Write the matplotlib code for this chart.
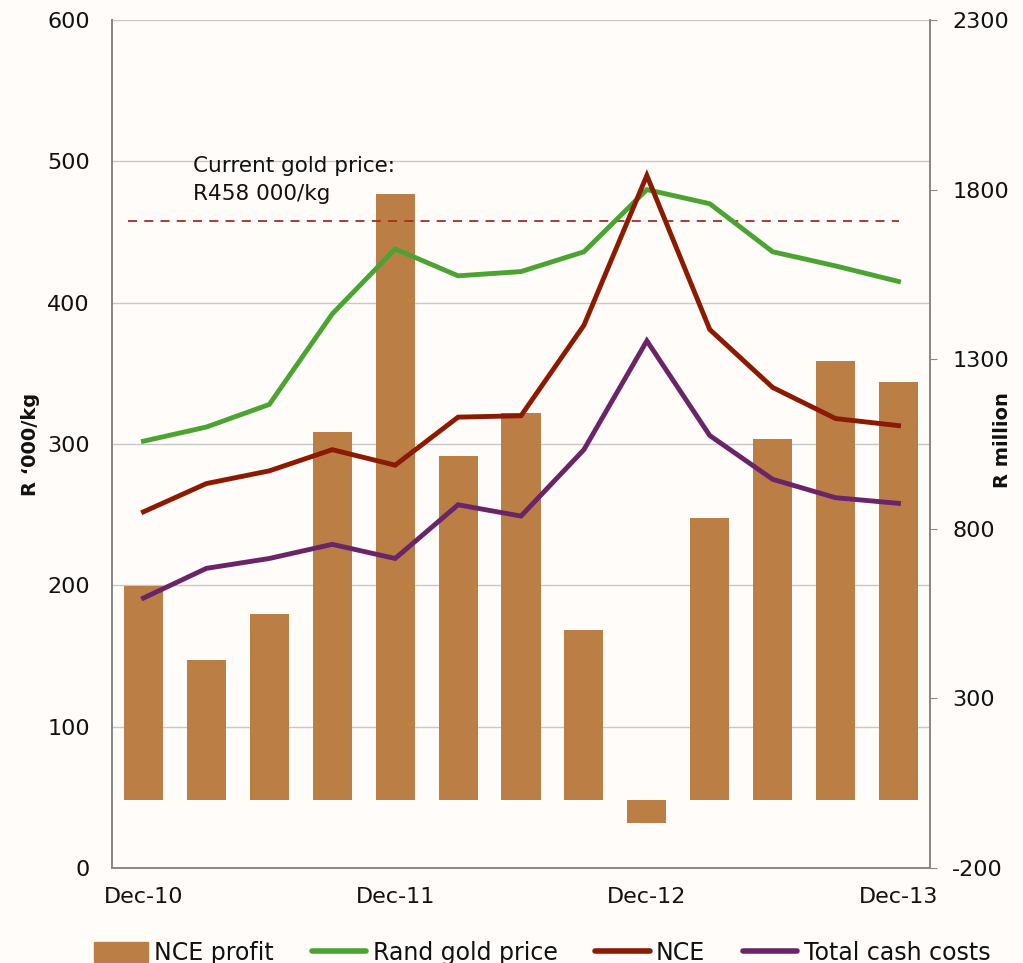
import matplotlib
matplotlib.use("Agg")
import matplotlib.pyplot as plt
from matplotlib.patches import Patch
from matplotlib.lines import Line2D

plt.rcParams["font.family"] = ["DejaVu Sans"]
plt.rcParams["axes.unicode_minus"] = False

quarters = ["Dec-10", "Mar-11", "Jun-11", "Sep-11", "Dec-11", "Mar-12", "Jun-12",
            "Sep-12", "Dec-12", "Mar-13", "Jun-13", "Sep-13", "Dec-13"]
nce_profit = [631, 413, 548, 1085, 1787, 1014, 1141, 501, -68, 831, 1064, 1294, 1232]
rand_gold = [302, 312, 328, 392, 438, 419, 422, 436, 480, 470, 436, 426, 415]
nce = [252, 272, 281, 296, 285, 319, 320, 384, 490, 381, 340, 318, 313]
cash_costs = [191, 212, 219, 229, 219, 257, 249, 296, 373, 306, 275, 262, 258]
current_price = 458
tick_labels = {0: "Dec-10", 4: "Dec-11", 8: "Dec-12", 12: "Dec-13"}

BG = "#fffcf9"
BAR = "#bb7f46"
GREEN = "#4ba432"
RED = "#8b1a00"
PURPLE = "#6a2468"
GRID = "#c8c8c8"
TXT = "#111111"

fig = plt.figure(figsize=(10.23, 9.63), dpi=100, facecolor=BG)
ax = fig.add_axes([112 / 1023, 1 - 868 / 963, 818 / 1023, 848 / 963])
ax2 = ax.twinx()

x = list(range(len(quarters)))

# bars on the right axis (R million), underneath the lines
ax2.bar(x, nce_profit, width=0.62, color=BAR, zorder=1)
ax2.set_ylim(-200, 2300)
ax2.set_yticks([-200, 300, 800, 1300, 1800, 2300])

ax.set_zorder(ax2.get_zorder() + 1)
ax.patch.set_visible(False)
ax2.patch.set_facecolor(BG)

# left-axis gridlines sit behind the bars
for v in range(100, 601, 100):
    ax2.axhline(-200 + v * 2500 / 600, color=GRID, lw=1, zorder=0)

ax.plot(x, rand_gold, color=GREEN, lw=3.5, solid_joinstyle="miter", zorder=3)
ax.plot(x, nce, color=RED, lw=3.5, solid_joinstyle="miter", zorder=3)
ax.plot(x, cash_costs, color=PURPLE, lw=3.5, solid_joinstyle="miter", zorder=3)
ax.plot([-0.25, 12], [current_price, current_price], color="#a3301c", lw=1.3,
        ls=(0, (5, 4)), zorder=2)
ax.text(0.79, 504, "Current gold price:\nR458 000/kg", fontsize=15.5, va="top",
        ha="left", linespacing=1.55, color=TXT)

ax.set_xlim(-0.5, 12.5)
ax.set_ylim(0, 600)
ax.set_yticks(range(0, 601, 100))
ax.set_xticks(list(tick_labels.keys()))
ax.set_xticklabels(list(tick_labels.values()))

fig.text(31 / 1023, 1 - 444 / 963, "R \u2018000/kg", rotation=90, fontsize=14,
         fontweight="bold", ha="center", va="center", color=TXT)
fig.text(1003 / 1023, 1 - 440 / 963, "R million", rotation=90, fontsize=14,
         fontweight="bold", ha="center", va="center", color=TXT)

for a in (ax, ax2):
    a.tick_params(axis="both", labelsize=16, colors=TXT)
    for s in a.spines.values():
        s.set_color("#888888")
        s.set_linewidth(1.3)
    a.spines["top"].set_visible(False)
ax.tick_params(axis="y", length=0, pad=16)
ax.tick_params(axis="x", length=0, pad=14)
ax2.tick_params(axis="y", length=5, color="#888888", pad=11)

handles = [Patch(color=BAR, label="NCE profit"),
           Line2D([], [], color=GREEN, lw=4, solid_capstyle="round", label="Rand gold price"),
           Line2D([], [], color=RED, lw=4, solid_capstyle="round", label="NCE"),
           Line2D([], [], color=PURPLE, lw=4, solid_capstyle="round", label="Total cash costs")]
fig.legend(handles=handles, loc="center", bbox_to_anchor=(542 / 1023, 1 - 953 / 963),
           ncol=4, frameon=False, fontsize=17, handlelength=2.3, handleheight=0.9,
           handletextpad=0.27, columnspacing=1.6, borderpad=0, labelcolor=TXT)

fig.savefig("out.png", dpi=100, facecolor=BG)
